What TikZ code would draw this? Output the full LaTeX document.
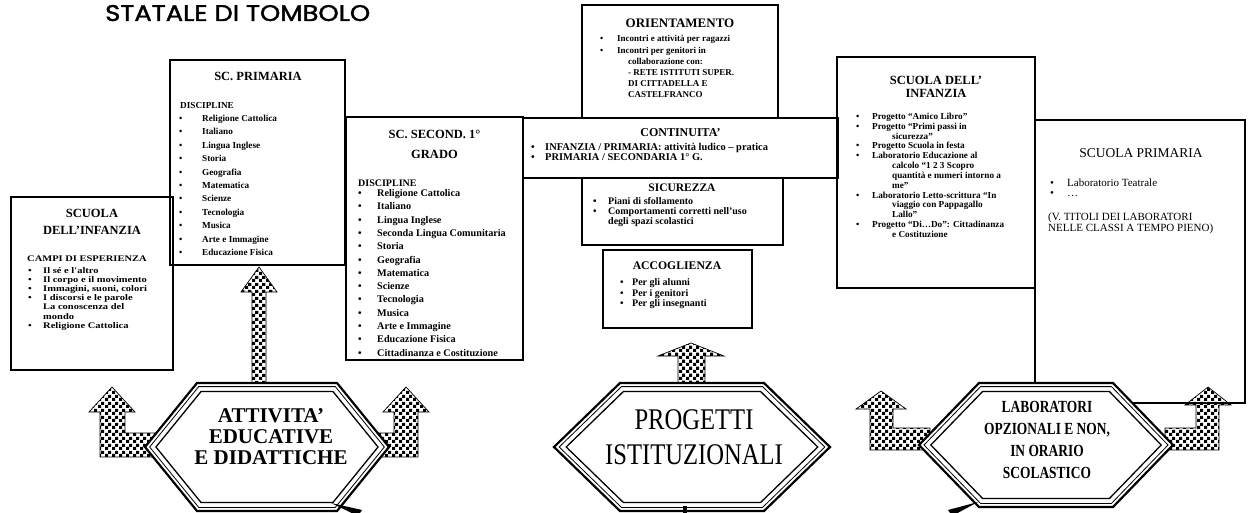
\documentclass[tikz,border=0pt]{standalone}
\usepackage{fontspec}
\setmainfont{Liberation Serif}
\newfontfamily\wideserif[FakeStretch=1.22]{Liberation Serif}
\newfontfamily\narrowB[FakeStretch=0.82]{Liberation Serif}
\newfontfamily\narrowC[FakeStretch=0.79]{Liberation Serif}
\newfontfamily\titlefont[FakeBold=1.6]{Poppins}
\usetikzlibrary{patterns}
\pgfdeclarepatternformonly{bigcheck}{\pgfqpoint{0pt}{0pt}}{\pgfqpoint{7pt}{7pt}}{\pgfqpoint{7pt}{7pt}}{%
  \pgfpathrectangle{\pgfqpoint{0pt}{0pt}}{\pgfqpoint{3.5pt}{3.5pt}}%
  \pgfpathrectangle{\pgfqpoint{3.5pt}{3.5pt}}{\pgfqpoint{3.5pt}{3.5pt}}%
  \pgfusepath{fill}}
\newlength\bw
\newlength\cw
\newcommand\bl[1]{\makebox[\bw][l]{\textbullet}#1}
\newcommand\ct[1]{\hspace*{\bw}#1}
\newcommand\cc[1]{\hspace*{\cw}#1}
% name prefix, x, first baseline, line step, font, items
\newcommand\plist[6]{\foreach \itm [count=\ii from 0] in {#6} {\node[ln, font=#5, name=#1\ii] at (#2,{#3+\ii*#4}) {\itm};}}
% hexagon ring: cx, cy, half width, top half width, half height
\newcommand\hexring[5]{%
  \fill[white] ({#1-#3},#2) -- ({#1-#4},{#2-#5}) -- ({#1+#4},{#2-#5}) -- ({#1+#3},#2) -- ({#1+#4},{#2+#5}) -- ({#1-#4},{#2+#5}) -- cycle;
  \pgfmathsetmacro\hxS{#5/sqrt((#5)^2+(#3-#4)^2)}
  \foreach \dd/\lw in {0/2.2, 3.6/0.8, 8.5/1.3} {
    \pgfmathsetmacro\hxW{#3-\dd/\hxS}
    \pgfmathsetmacro\hxH{#5-\dd}
    \pgfmathsetmacro\hxT{\hxW-\hxH*(#3-#4)/#5}
    \draw[line width=\lw pt] ({#1-\hxW},#2) -- ({#1-\hxT},{#2-\hxH}) -- ({#1+\hxT},{#2-\hxH}) -- ({#1+\hxW},#2) -- ({#1+\hxT},{#2+\hxH}) -- ({#1-\hxT},{#2+\hxH}) -- cycle;
  }}
\begin{document}
\begin{tikzpicture}[x=1pt,y=-1pt,
  ln/.style={anchor=base west, inner sep=0pt},
  tl/.style={anchor=base, inner sep=0pt},
  boxn/.style={draw, line width=1.6pt, inner sep=0pt},
  fatarrow/.style={pattern=bigcheck, draw=black, line width=0.7pt, line join=miter},
  hexlbl/.style={align=center, inner sep=0pt}]
\useasboundingbox (0,0) rectangle (1250,513);

% title
\node[anchor=base west, inner sep=0pt] (title) at (105,21) {\resizebox{265pt}{16pt}{\titlefont STATALE DI TOMBOLO}};

% boxes
\node[boxn, minimum width=162pt, minimum height=173pt] (infL) at (92,283.5) {};
\node[boxn, minimum width=175pt, minimum height=205pt] (prim) at (257.5,162.5) {};
\node[boxn, minimum width=177pt, minimum height=243pt] (sec) at (434.5,238.5) {};
\node[boxn, minimum width=196pt, minimum height=113pt] (orient) at (680,61.5) {};
\node[boxn, minimum width=315pt, minimum height=60pt] (cont) at (680.5,148) {};
\node[boxn, minimum width=201pt, minimum height=67pt] (sicur) at (682.5,211.5) {};
\node[boxn, minimum width=149pt, minimum height=78pt] (accog) at (677.5,289) {};
\node[boxn, minimum width=198pt, minimum height=231pt] (infR) at (936,172.5) {};
\node[boxn, minimum width=210pt, minimum height=283pt] (primR) at (1140,261.5) {};

% left infanzia
\node[tl, font=\fontsize{12.5}{14}\selectfont\bfseries] (infLt1) at (92,218) {SCUOLA};
\node[tl, font=\fontsize{12.5}{14}\selectfont\bfseries] (infLt2) at (92,234) {DELL'INFANZIA};
\node[ln, font=\wideserif\fontsize{8.6}{9}\selectfont\bfseries] (infLh) at (27,261.5) {CAMPI DI ESPERIENZA};
\plist{infLi}{28}{273}{9.2}{\wideserif\fontsize{8.6}{9}\selectfont\bfseries\setlength\bw{15pt}}{\bl{Il sé e l'altro}, \bl{Il corpo e il movimento}, \bl{Immagini, suoni, colori}, \bl{I discorsi e le parole}, \ct{La conoscenza del}, \ct{mondo}, \bl{Religione Cattolica}}

% sc primaria
\node[tl, font=\fontsize{12.5}{14}\selectfont\bfseries] (primt) at (258,81) {SC. PRIMARIA};
\node[ln, font=\fontsize{9.2}{11}\selectfont\bfseries] (primh) at (180,108.5) {DISCIPLINE};
\plist{primi}{179}{121.5}{13.4}{\fontsize{9.2}{11}\selectfont\bfseries\setlength\bw{23pt}}{\bl{Religione Cattolica}, \bl{Italiano}, \bl{Lingua Inglese}, \bl{Storia}, \bl{Geografia}, \bl{Matematica}, \bl{Scienze}, \bl{Tecnologia}, \bl{Musica}, \bl{Arte e Immagine}, \bl{Educazione Fisica}}

% sc second
\node[tl, font=\fontsize{12.5}{14}\selectfont\bfseries] (sect1) at (434.5,139) {SC. SECOND. 1°};
\node[tl, font=\fontsize{12.5}{14}\selectfont\bfseries] (sect2) at (434.5,159) {GRADO};
\node[ln, font=\fontsize{10}{12}\selectfont\bfseries] (sech) at (358,187) {DISCIPLINE};
\plist{seci}{358}{196.5}{13.3}{\fontsize{10.2}{12}\selectfont\bfseries\setlength\bw{19pt}}{\bl{Religione Cattolica}, \bl{Italiano}, \bl{Lingua Inglese}, \bl{Seconda Lingua Comunitaria}, \bl{Storia}, \bl{Geografia}, \bl{Matematica}, \bl{Scienze}, \bl{Tecnologia}, \bl{Musica}, \bl{Arte e Immagine}, \bl{Educazione Fisica}, \bl{Cittadinanza e Costituzione}}

% orientamento
\node[tl, font=\fontsize{13}{15}\selectfont\bfseries] (orientt) at (680,27.5) {ORIENTAMENTO};
\plist{orienti}{600}{42}{11.2}{\fontsize{9}{11}\selectfont\bfseries\setlength\bw{17pt}\setlength\cw{28pt}}{\bl{Incontri e attività per ragazzi}, \bl{Incontri per genitori in}, \cc{collaborazione con:}, \cc{- RETE ISTITUTI SUPER.}, \cc{DI CITTADELLA E}, \cc{CASTELFRANCO}}

% continuita
\node[tl, font=\fontsize{12}{14}\selectfont\bfseries] (contt) at (680.5,136.5) {CONTINUITA'};
\plist{conti}{531}{150.5}{10}{\fontsize{10.4}{12}\selectfont\bfseries\setlength\bw{14pt}}{\bl{INFANZIA / PRIMARIA: attività ludico – pratica}, \bl{PRIMARIA / SECONDARIA 1° G.}}

% sicurezza
\node[tl, font=\fontsize{11.5}{13}\selectfont\bfseries] (sicurt) at (682,192) {SICUREZZA};
\plist{sicuri}{593}{205}{9.8}{\fontsize{10}{12}\selectfont\bfseries\setlength\bw{15pt}}{\bl{Piani di sfollamento}, \bl{Comportamenti corretti nell'uso}, \ct{degli spazi scolastici}}

% accoglienza
\node[tl, font=\fontsize{11.7}{13}\selectfont\bfseries] (accogt) at (677,269.5) {ACCOGLIENZA};
\plist{accogi}{620}{285.5}{10.5}{\fontsize{10}{12}\selectfont\bfseries\setlength\bw{12pt}}{\bl{Per gli alunni}, \bl{Per i genitori}, \bl{Per gli insegnanti}}

% right infanzia
\node[tl, font=\fontsize{12.5}{14}\selectfont\bfseries] (infRt1) at (936,85) {SCUOLA DELL'};
\node[tl, font=\fontsize{12.5}{14}\selectfont\bfseries] (infRt2) at (936,98) {INFANZIA};
\plist{infRi}{856}{119.5}{9.83}{\fontsize{9.2}{11}\selectfont\bfseries\setlength\bw{16pt}\setlength\cw{36pt}}{\bl{Progetto “Amico Libro”}, \bl{Progetto “Primi passi in}, \cc{sicurezza”}, \bl{Progetto Scuola in festa}, \bl{Laboratorio Educazione al}, \cc{calcolo “1 2 3 Scopro}, \cc{quantità e numeri intorno a}, \cc{me”}, \bl{Laboratorio Letto-scrittura “In}, \cc{viaggio con Pappagallo}, \cc{Lallo”}, \bl{Progetto “Di…Do”: Cittadinanza}, \cc{e Costituzione}}

% right primaria
\node[tl, font=\fontsize{13.5}{15}\selectfont] (primRt) at (1141,157.5) {SCUOLA PRIMARIA};
\plist{primRi}{1050}{187}{10}{\fontsize{11}{12}\selectfont\setlength\bw{17pt}}{\bl{Laboratorio Teatrale}, \bl{…}}
\plist{primRn}{1048}{221}{10}{\fontsize{11}{12}\selectfont}{{(V. TITOLI DEI LABORATORI}, {NELLE CLASSI A TEMPO PIENO)}}

% fat checkered arrows
\filldraw[fatarrow] (252,383) -- (252,292) -- (241,292) -- (259,267) -- (277,292) -- (266,292) -- (266,383) -- cycle;
\filldraw[fatarrow] (160,433) -- (125,433) -- (125,412) -- (135,412) -- (112,387) -- (89,412) -- (100,412) -- (100,457) -- (160,457) -- cycle;
\filldraw[fatarrow] (378,433) -- (394,433) -- (394,412) -- (383,412) -- (406,387) -- (429,412) -- (418,412) -- (418,457) -- (378,457) -- cycle;
\filldraw[fatarrow] (678,385) -- (678,356) -- (658,356) -- (691,343) -- (724,356) -- (705,356) -- (705,385) -- cycle;
\filldraw[fatarrow] (930,428) -- (893,428) -- (893,409) -- (906,409) -- (881,391) -- (856,409) -- (870,409) -- (870,450) -- (930,450) -- cycle;
\filldraw[fatarrow] (1165,428) -- (1196,428) -- (1196,405) -- (1185,405) -- (1208,387) -- (1231,405) -- (1219,405) -- (1219,450) -- (1165,450) -- cycle;

% hexagons
\hexring{267}{447}{122}{70}{64}
\hexring{692}{447}{138}{72}{64}
\hexring{1046}{445}{127}{67}{62}

\node[hexlbl, font=\fontsize{21}{21}\selectfont\bfseries] (hexA) at (271,436.5) {ATTIVITA'\\EDUCATIVE\\E DIDATTICHE};
\node[hexlbl, font=\narrowB\fontsize{30}{35}\selectfont] (hexB) at (694,437.5) {PROGETTI\\ISTITUZIONALI};
\node[hexlbl, font=\narrowC\fontsize{17}{21.7}\selectfont\bfseries] (hexC) at (1047,440) {LABORATORI\\OPZIONALI E NON,\\IN ORARIO\\SCOLASTICO};

% black wedges at the bottom edge
\fill (331,503) -- (362,510) -- (358,516) -- cycle;
\fill (683,506) rectangle (687,514);
\fill (978,502) -- (948,510) -- (952,516) -- cycle;
\end{tikzpicture}
\end{document}
